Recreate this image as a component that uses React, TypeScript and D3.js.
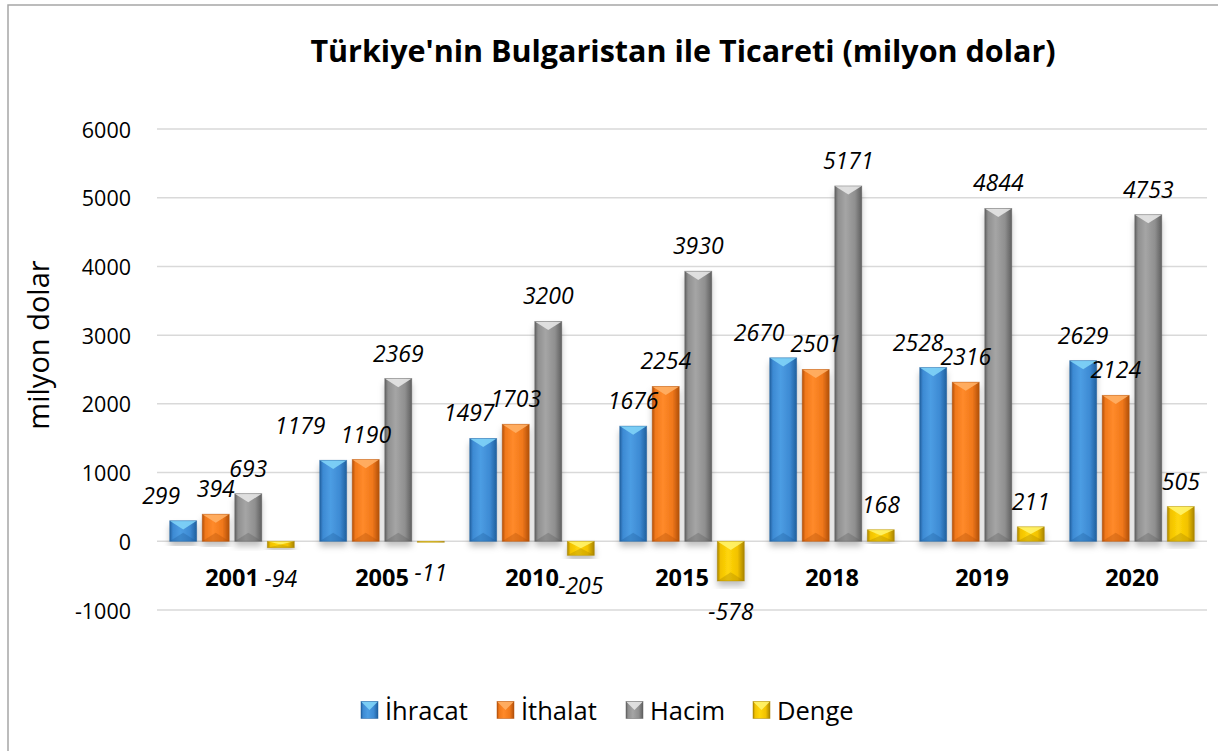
import React from "react";
import * as d3 from "d3";

const years = ["2001", "2005", "2010", "2015", "2018", "2019", "2020"];
const seriesNames = ["İhracat", "İthalat", "Hacim", "Denge"];
const ihracat = [299, 1179, 1497, 1676, 2670, 2528, 2629];
const ithalat = [394, 1190, 1703, 2254, 2501, 2316, 2124];
const hacim = [693, 2369, 3200, 3930, 5171, 4844, 4753];
const denge = [-94, -11, -205, -578, 168, 211, 505];
const yTicks = [-1000, 0, 1000, 2000, 3000, 4000, 5000, 6000];

// manual label nudges (layout only): key "series-yearIndex" -> [dx, dy]
const labelNudge: Record<string, [number, number]> = {
  "0-0": [-22, 0],
  "0-1": [-33, -9],
  "0-2": [-14, 0],
  "0-4": [-24, 0],
  "0-5": [-15, 0],
};

const palette = [
  { base: "#3d8ad3", light: "#7fd3f7", dark: "#1f5f9e", mid: "#4c9de3" },
  { base: "#f0781a", light: "#ffb066", dark: "#b2500a", mid: "#ff8a2a" },
  { base: "#8f8f8f", light: "#e6e6e6", dark: "#5e5e5e", mid: "#a5a5a5" },
  { base: "#f2c200", light: "#fff36a", dark: "#a88400", mid: "#ffd60a" },
];

const W = 1218;
const H = 751;
const FONT = "'Open Sans', 'Noto Sans', sans-serif";

export default function App() {
  const allSeries = [ihracat, ithalat, hacim, denge];
  const x0 = d3.scaleBand<string>().domain(years).range([157, 1207]).padding(0);
  const x1 = d3
    .scaleBand<string>()
    .domain(seriesNames)
    .range([0, x0.bandwidth()])
    .paddingInner(0.17)
    .paddingOuter(0.39);
  const y = d3.scaleLinear().domain([-1000, 6000]).range([610, 129]);
  const bw = x1.bandwidth();

  return (
    <div style={{ position: "absolute", left: 0, top: 0 }}>
      <svg width={W} height={H} style={{ display: "block", background: "#fff" }}>
        <defs>
          {palette.map((p, i) => (
            <linearGradient key={i} id={`g${i}`} x1="0" x2="1" y1="0" y2="0">
              <stop offset="0%" stopColor={p.dark} />
              <stop offset="12%" stopColor={p.base} />
              <stop offset="40%" stopColor={p.mid} />
              <stop offset="75%" stopColor={p.base} />
              <stop offset="100%" stopColor={p.dark} />
            </linearGradient>
          ))}
          <filter id="sh" x="-30%" y="-10%" width="160%" height="130%">
            <feDropShadow dx="0" dy="5" stdDeviation="3" floodColor="#000" floodOpacity="0.25" />
          </filter>
        </defs>
        <rect x={8} y={5} width={1240} height={780} fill="#fff" stroke="#a6a6a6" strokeWidth={1.5} />
        <text
          x={683}
          y={50}
          textAnchor="middle"
          dominantBaseline="central"
          fontFamily={FONT}
          fontWeight="bold"
          fontSize={30.5}
          fill="#000"
        >
          Türkiye'nin Bulgaristan ile Ticareti (milyon dolar)
        </text>
        {yTicks.map((t) => (
          <g key={t}>
            <line x1={157} x2={1207} y1={y(t)} y2={y(t)} stroke="#d9d9d9" strokeWidth={1.5} />
            <text
              x={131}
              y={y(t)}
              textAnchor="end"
              dominantBaseline="central"
              fontFamily={FONT}
              fontSize={21.5}
              fill="#000"
            >
              {t}
            </text>
          </g>
        ))}
        <text
          transform={`translate(37,345) rotate(-90)`}
          textAnchor="middle"
          dominantBaseline="central"
          fontFamily={FONT}
          fontSize={29}
          fill="#000"
        >
          milyon dolar
        </text>
        {years.map((yr, yi) => (
          <g key={yr}>
            {allSeries.map((arr, si) => {
              const v = arr[yi];
              const bx = (x0(yr) as number) + (x1(seriesNames[si]) as number);
              const top = Math.min(y(v), y(0));
              const bot = Math.max(y(v), y(0));
              const h = Math.max(bot - top, 1);
              const p = palette[si];
              const b = Math.min(bw * 0.32, h / 2);
              return (
                <g key={si}>
                  <g filter="url(#sh)">
                    <rect x={bx} y={top} width={bw} height={h} fill={`url(#g${si})`} />
                  </g>
                  <polygon
                    points={`${bx},${top} ${bx + bw},${top} ${bx + bw / 2},${top + b}`}
                    fill={p.light}
                    opacity={0.9}
                  />
                  <polygon
                    points={`${bx},${bot} ${bx + bw},${bot} ${bx + bw / 2},${bot - b}`}
                    fill={p.dark}
                    opacity={0.35}
                  />
                  <rect x={bx} y={top} width={bw} height={h} fill="none" stroke={p.dark} strokeOpacity={0.5} strokeWidth={0.8} />
                </g>
              );
            })}
          </g>
        ))}
        {years.map((yr) => (
          <text
            key={yr}
            x={(x0(yr) as number) + x0.bandwidth() / 2}
            y={577}
            textAnchor="middle"
            dominantBaseline="central"
            fontFamily={FONT}
            fontWeight="bold"
            fontSize={23.5}
            fill="#000"
          >
            {yr}
          </text>
        ))}
        {years.map((yr, yi) =>
          allSeries.map((arr, si) => {
            const v = arr[yi];
            const cx = (x0(yr) as number) + (x1(seriesNames[si]) as number) + bw / 2;
            const nudge = labelNudge[`${si}-${yi}`] || [0, 0];
            const ly = v >= 0 ? y(v) - 26 : y(v) + 30;
            return (
              <text
                key={`${yr}-${si}`}
                x={cx + nudge[0]}
                y={ly + nudge[1]}
                textAnchor="middle"
                dominantBaseline="central"
                fontFamily={FONT}
                fontStyle="italic"
                fontSize={23}
                fill="#000"
              >
                {v}
              </text>
            );
          })
        )}
        <g transform="translate(0,710)">
          {seriesNames.map((name, si) => {
            const pos = [361, 497, 626, 753][si];
            const p = palette[si];
            return (
              <g key={name}>
                <rect x={pos} y={-8.5} width={17} height={17} fill={`url(#g${si})`} />
                <polygon
                  points={`${pos},-8.5 ${pos + 17},-8.5 ${pos + 8.5},0`}
                  fill={p.light}
                  opacity={0.9}
                />
                <rect x={pos} y={-8.5} width={17} height={17} fill="none" stroke={p.dark} strokeOpacity={0.6} strokeWidth={0.8} />
                <text
                  x={pos + 24}
                  y={0}
                  dominantBaseline="central"
                  fontFamily={FONT}
                  fontSize={25.5}
                  fill="#000"
                >
                  {name}
                </text>
              </g>
            );
          })}
        </g>
      </svg>
    </div>
  );
}
